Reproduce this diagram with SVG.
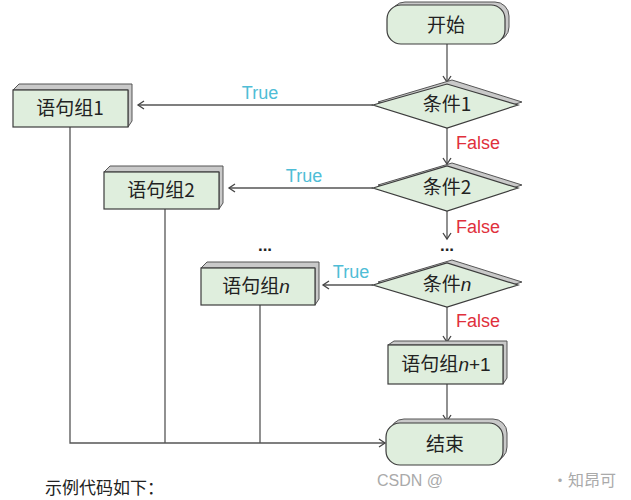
<svg xmlns="http://www.w3.org/2000/svg" width="631" height="500" viewBox="0 0 631 500">
<defs>
<style>
.node{fill:#dfeedd;stroke:#3c3c3c;stroke-width:1.2}
.sh{fill:#c9c9c9;stroke:#555;stroke-width:1}
.t{font-family:"Noto Sans CJK SC","Liberation Sans",sans-serif;font-size:19px;fill:#222;text-anchor:middle}
.e{font-family:"Liberation Sans",sans-serif;font-size:18px}
.tr{fill:#4fbdd6}
.fa{fill:#e0303c}
.ln{fill:none;stroke:#555;stroke-width:1.3}
.dots{font-family:"Liberation Sans",sans-serif;font-size:17px;font-weight:bold;fill:#222;text-anchor:middle}
</style>
<marker id="a" markerWidth="10" markerHeight="10" refX="8" refY="5" orient="auto" markerUnits="userSpaceOnUse">
<polyline points="2,1 8,5 2,9" fill="none" stroke="#444" stroke-width="1.3"/>
</marker>
</defs>
<rect width="631" height="500" fill="#fff"/>
<g id="connectors">
<line class="ln" x1="447" y1="44" x2="447" y2="82" marker-end="url(#a)"/>
<line class="ln" x1="373" y1="105" x2="138" y2="105" marker-end="url(#a)"/>
<line class="ln" x1="447" y1="128" x2="447" y2="164" marker-end="url(#a)"/>
<line class="ln" x1="373" y1="188" x2="229" y2="188" marker-end="url(#a)"/>
<line class="ln" x1="447" y1="211" x2="447" y2="239" marker-end="url(#a)"/>
<line class="ln" x1="373" y1="285" x2="323" y2="285" marker-end="url(#a)"/>
<line class="ln" x1="447" y1="307" x2="447" y2="342" marker-end="url(#a)"/>
<line class="ln" x1="447" y1="384" x2="447" y2="421" marker-end="url(#a)"/>
<polyline class="ln" points="70,127 70,443 385,443" marker-end="url(#a)"/>
<line class="ln" x1="165" y1="209" x2="165" y2="443"/>
<line class="ln" x1="260" y1="305" x2="260" y2="443"/>
<text class="e tr" x="260" y="99" text-anchor="middle">True</text>
<text class="e tr" x="304" y="182" text-anchor="middle">True</text>
<text class="e tr" x="351" y="278" text-anchor="middle">True</text>
<text class="e fa" x="456" y="149">False</text>
<text class="e fa" x="456" y="233">False</text>
<text class="e fa" x="456" y="327">False</text>
<text class="dots" x="447" y="251">...</text>
<text class="dots" x="265" y="251">...</text>
</g>
<g id="start">
<rect class="sh" x="391" y="2" width="118" height="39" rx="14"/>
<rect class="node" x="387" y="5" width="118" height="39" rx="14"/>
<text class="t" x="446" y="32">开始</text>
</g>
<g id="cond1">
<polygon class="sh" points="378,102 452,80 522,102 452,124"/>
<polygon class="node" points="373,105 447,84 518,105 447,128"/>
<text class="t" x="447" y="111">条件1</text>
</g>
<g id="cond2">
<polygon class="sh" points="378,185 452,163 522,185 452,207"/>
<polygon class="node" points="373,188 447,166 518,188 447,211"/>
<text class="t" x="447" y="194">条件2</text>
</g>
<g id="condn">
<polygon class="sh" points="378,282 452,260 522,282 452,304"/>
<polygon class="node" points="373,285 447,263 518,285 447,307"/>
<text class="t" x="447" y="291">条件<tspan font-style="italic" font-family="Liberation Sans">n</tspan></text>
</g>
<g id="block1">
<polygon class="sh" points="13,90 19,84 132,84 132,121 128,127 128,90"/>
<rect class="node" x="13" y="90" width="115" height="37"/>
<text class="t" x="70" y="115">语句组1</text>
</g>
<g id="block2">
<polygon class="sh" points="104,172 110,166 223,166 223,203 219,209 219,172"/>
<rect class="node" x="104" y="172" width="115" height="37"/>
<text class="t" x="161" y="197">语句组2</text>
</g>
<g id="blockn">
<polygon class="sh" points="201,268 207,262 319,262 319,299 315,305 315,268"/>
<rect class="node" x="201" y="268" width="114" height="37"/>
<text class="t" x="256" y="293">语句组<tspan font-style="italic" font-family="Liberation Sans">n</tspan></text>
</g>
<g id="blockn1">
<polygon class="sh" points="388,345 394,341 507,341 507,378 503,384 503,345"/>
<rect class="node" x="388" y="345" width="115" height="39"/>
<text class="t" x="446" y="371">语句组<tspan font-style="italic" font-family="Liberation Sans">n</tspan><tspan font-family="Liberation Sans">+1</tspan></text>
</g>
<g id="end">
<rect class="sh" x="390" y="419" width="117" height="42" rx="14"/>
<rect class="node" x="386" y="423" width="117" height="42" rx="14"/>
<text class="t" x="445" y="451">结束</text>
</g>
<text x="45" y="494" font-family="Noto Sans CJK SC,sans-serif" font-size="17" fill="#222">示例代码如下：</text>
<text x="377" y="486" font-family="Liberation Sans,sans-serif" font-size="16" fill="#aaa">CSDN @</text>
<text x="552" y="486" font-family="Noto Sans CJK SC,sans-serif" font-size="16" fill="#aaa">·知昂可</text>
</svg>
